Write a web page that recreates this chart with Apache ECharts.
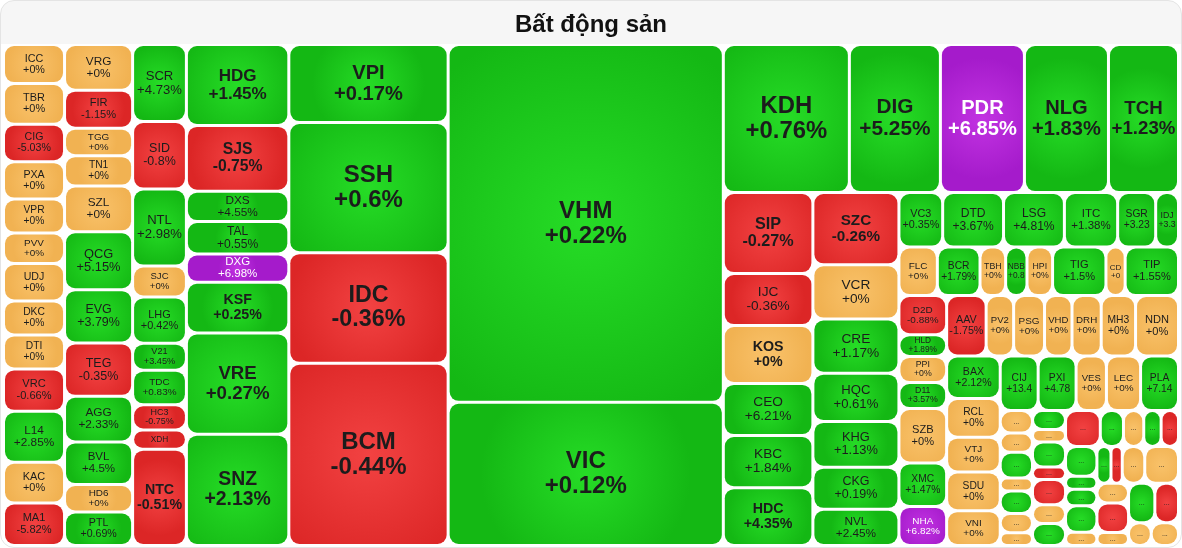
<!DOCTYPE html>
<html>
<head>
<meta charset="utf-8">
<script src="https://cdn.jsdelivr.net/npm/echarts@6/dist/echarts.min.js"></script>
<style>
  html, body { margin: 0; padding: 0; background: #fff; }
  #wrap {
    width: 1182px; height: 548px; box-sizing: border-box;
    border: 1px solid #e4e4e4; border-radius: 14px; overflow: hidden;
    background: linear-gradient(#f6f6f6 0, #f6f6f6 43px, #fff 43px);
  }
  #chart { width: 100%; height: 100%; }
</style>
</head>
<body>
<div id="wrap"><div id="chart"></div></div>
<script>
// mã cổ phiếu ('...' = ô quá nhỏ để ghi tên)
var tickers = [
  'ICC','TBR','CIG','PXA','VPR','PVV','UDJ','DKC',
  'DTI','VRC','L14','KAC','MA1','VRG','FIR','TGG',
  'TN1','SZL','QCG','EVG','TEG','AGG','BVL','HD6',
  'PTL','SCR','SID','NTL','SJC','LHG','V21','TDC','HC3','XDH',
  'NTC','HDG','SJS','DXS','TAL','DXG','KSF','VRE',
  'SNZ','VPI','SSH','IDC','BCM',
  'VHM',
  'VIC','KDH','DIG','PDR','NLG','TCH',
  'SIP','IJC','KOS','CEO','KBC','HDC','SZC','VCR','CRE','HQC','KHG','CKG','NVL','VC3','DTD','LSG','ITC',
  'SGR','IDJ','FLC','BCR','TBH','NBB','HPI','TIG','CDC','TIP','D2D','HLD','PPI','D11','SZB','XMC','NHA',
  'AAV','PV2','PSG','VHD','DRH','MH3','NDN','BAX','RCL','VTJ','SDU','VNI','CIJ','PXI','VES','LEC','PLA',
  '...','...','...','...','...','...','...','...','...','...','...','...','...','...','...','...','...',
  '...','...','...','...','...','...','...','...','...','...','...','...','...','...','...','...','...','...'
];
// biến động giá (%)
var changes = [
  0, 0, -5.03, 0, 0, 0, 0, 0,
  0, -0.66, 2.85, 0, -5.82, 0, -1.15, 0,
  0, 0, 5.15, 3.79, -0.35, 2.33, 4.5, 0,
  0.69, 4.73, -0.8, 2.98, 0, 0.42, 3.45, 0.83, -0.75, -11.04,
  -0.51, 1.45, -0.75, 4.55, 0.55, 6.98, 0.25, 0.27,
  2.13, 0.17, 0.6, -0.36, -0.44,
  0.22,
  0.12, 0.76, 5.25, 6.85, 1.83, 1.23,
  -0.27, -0.36, 0, 6.21, 1.84, 4.35, -0.26, 0, 1.17, 0.61, 1.13, 0.19, 2.45, 0.35, 3.67, 4.81, 1.38,
  3.23, 3.33, 0, 1.79, 0, 0.84, 0, 1.5, 0, 1.55, -0.88, 1.89, 0, 3.57, 0, 1.47, 6.82,
  -1.75, 0, 0, 0, 0, 0, 0, 2.12, 0, 0, 0, 0, 13.47, 4.78, 0, 0, 7.14,
  0, 0, 1.1, 0, 0.9, 0, 0, 1.2, 0, 0.8, -0.5, -0.9, 0, 1.3, -1.2, 1.0, 0,
  1.2, -0.6, 0.9, 1.1, 0.7, 1.4, 0, 0.8, -0.4, 0, 0, 0, -0.7, 0, 1.0, -0.9, 0, 0
];
// tỷ trọng (ước lượng theo diện tích ô)
var weights = [
  2.3, 2.4, 2.2, 2.2, 2.0, 1.8, 2.2, 2.0,
  2.0, 2.5, 3.0, 2.4, 2.5, 3.0, 2.5, 1.8,
  2.0, 3.0, 3.8, 3.5, 3.5, 3.0, 2.8, 1.8,
  2.2, 4.0, 3.5, 4.0, 1.6, 2.4, 1.4, 1.8, 1.3, 1.0,
  5.0, 8.0, 6.5, 3.0, 3.2, 2.8, 5.0, 10,
  11, 12, 20, 17, 28,
  95,
  38, 18, 13, 12, 12, 10,
  7.0, 4.5, 5.0, 4.5, 4.5, 5.0, 6.0, 4.5, 4.5, 4.0, 3.8, 3.5, 3.0, 2.3, 3.2, 3.2, 2.8,
  2.0, 1.2, 1.8, 2.0, 1.2, 1.0, 1.2, 2.5, 0.9, 2.5, 1.8, 1.0, 1.2, 1.2, 2.5, 2.0, 1.8,
  2.3, 1.6, 1.8, 1.6, 1.7, 2.0, 2.5, 2.2, 2.0, 1.8, 2.0, 1.8, 2.0, 2.0, 1.6, 1.8, 2.0,
  0.7, 0.6, 0.8, 0.4, 0.7, 0.6, 0.4, 0.6, 0.4, 0.8, 0.4, 0.8, 0.6, 0.7, 1.2, 0.8, 0.7,
  0.6, 0.6, 0.9, 0.4, 0.5, 0.8, 0.4, 0.5, 0.4, 0.8, 1.2, 0.6, 0.9, 0.4, 1.0, 0.9, 0.5, 0.6
];
// mã tăng trần (màu tím)
var ceilingTickers = ['DXG', 'PDR', 'NHA'];

var chart = echarts.init(document.getElementById('chart'));

function fill(c1, c2) {
  return new echarts.graphic.RadialGradient(0.5, 0.5, 0.75, [
    { offset: 0, color: c1 },
    { offset: 1, color: c2 }
  ]);
}
var palette = {
  up: fill('#26dc26', '#14b814'),
  down: fill('#f24242', '#dc2626'),
  flat: fill('#f9c26a', '#f1b252'),
  ceil: fill('#c233e2', '#a51bcb')
};

function fmtChange(v) {
  return (v >= 0 ? '+' : '') + v + '%';
}

var data = tickers.map(function (t, i) {
  var v = weights[i];
  var ch = changes[i];
  var kind = ceilingTickers.indexOf(t) >= 0 ? 'ceil' : (ch > 0 ? 'up' : (ch < 0 ? 'down' : 'flat'));
  var fs = t === '...' ? 7 : Math.min(24, Math.max(6, 3.5 + Math.sqrt(v) * 4.8));
  return {
    name: t,
    value: v,
    change: ch,
    itemStyle: { color: palette[kind] },
    label: {
      fontSize: fs,
      fontWeight: v >= 5 ? 'bold' : 'normal',
      color: kind === 'ceil' ? '#fff' : '#1c1c1c',
      lineHeight: Math.round(fs * 1.05)
    }
  };
});

var option = {
  animation: false,
  title: {
    text: 'Bất động sản',
    left: 'center',
    top: 7,
    textStyle: { fontFamily: 'Liberation Sans', fontSize: 24, fontWeight: 'bold', color: '#111' }
  },
  series: [{
    type: 'treemap',
    left: 4,
    right: 4,
    top: 45,
    bottom: 3,
    sort: false,
    roam: false,
    nodeClick: false,
    breadcrumb: { show: false },
    itemStyle: { gapWidth: 3, borderWidth: 0, borderColor: '#fff', borderRadius: 9 },
    label: {
      show: true,
      position: 'inside',
      align: 'center',
      verticalAlign: 'middle',
      padding: 0,
      fontFamily: 'Liberation Sans',
      overflow: 'truncate',
      ellipsis: '',
      formatter: function (p) {
        if (p.name === '...') return '...';
        return p.name + '\n' + fmtChange(p.data.change);
      }
    },
    data: data
  }]
};
chart.setOption(option);
</script>
</body>
</html>
